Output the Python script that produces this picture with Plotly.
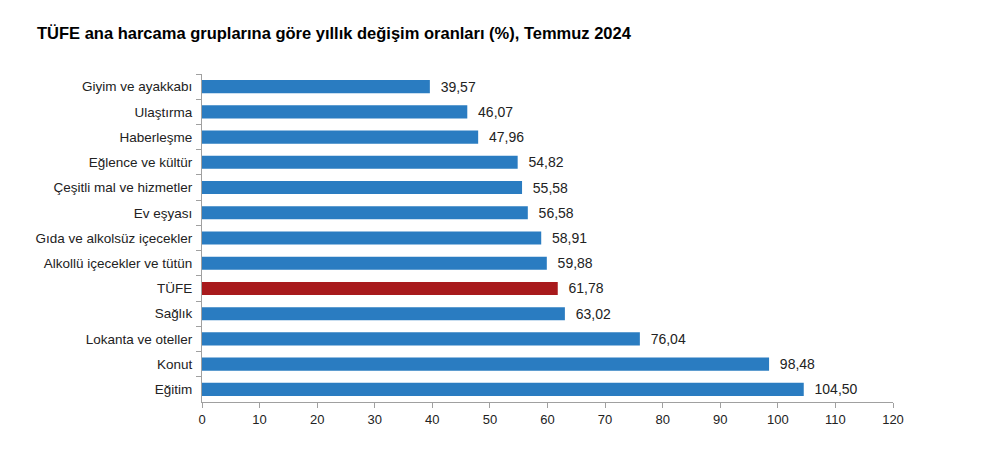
import plotly.graph_objects as go

categories = [
    "Giyim ve ayakkabı",
    "Ulaştırma",
    "Haberleşme",
    "Eğlence ve kültür",
    "Çeşitli mal ve hizmetler",
    "Ev eşyası",
    "Gıda ve alkolsüz içecekler",
    "Alkollü içecekler ve tütün",
    "TÜFE",
    "Sağlık",
    "Lokanta ve oteller",
    "Konut",
    "Eğitim",
]
values = [39.57, 46.07, 47.96, 54.82, 55.58, 56.58, 58.91, 59.88, 61.78, 63.02, 76.04, 98.48, 104.50]
x_ticks = [0, 10, 20, 30, 40, 50, 60, 70, 80, 90, 100, 110, 120]

BLUE = "#2a7cc1"
RED = "#a81a1c"
colors = [RED if c == "TÜFE" else BLUE for c in categories]

FONT = "Liberation Sans, Arial, sans-serif"

fig = go.Figure(
    go.Bar(
        x=values,
        y=categories,
        orientation="h",
        marker=dict(color=colors, line=dict(width=0)),
        width=0.52,
        texttemplate="\u00a0\u00a0%{x:.2f}",
        textposition="outside",
        constraintext="none",
        textfont=dict(family=FONT, size=14, color="#222222"),
        cliponaxis=False,
        hoverinfo="skip",
    )
)

fig.update_layout(
    width=999,
    height=457,
    separators=",.",
    paper_bgcolor="white",
    plot_bgcolor="white",
    margin=dict(l=194, r=114, t=66, b=63),
    font=dict(family=FONT, size=13, color="#222222"),
    title=dict(
        text="<b>TÜFE ana harcama gruplarına göre yıllık değişim oranları (%), Temmuz 2024</b>",
        x=29 / 999,
        xanchor="left",
        y=1 - 25 / 457,
        yanchor="middle",
        font=dict(family=FONT, size=16.5, color="#000000"),
    ),
    showlegend=False,
)

fig.update_xaxes(
    range=[0, 120],
    tickvals=x_ticks,
    showgrid=False,
    zeroline=False,
    showline=True,
    linecolor="#a0a0a0",
    linewidth=1,
    ticks="outside",
    ticklen=5,
    tickcolor="#a0a0a0",
    tickfont=dict(size=13, color="#222222"),
)

fig.update_yaxes(
    type="category",
    categoryorder="array",
    categoryarray=categories,
    range=[12.5, -0.5],
    tickson="boundaries",
    showgrid=False,
    zeroline=False,
    showline=True,
    linecolor="#a0a0a0",
    linewidth=1,
    ticks="outside",
    ticklen=5,
    tickcolor="#a0a0a0",
    tickfont=dict(size=13.5, color="#222222"),
    ticklabelstandoff=6,
)

fig.write_html("out.html")
